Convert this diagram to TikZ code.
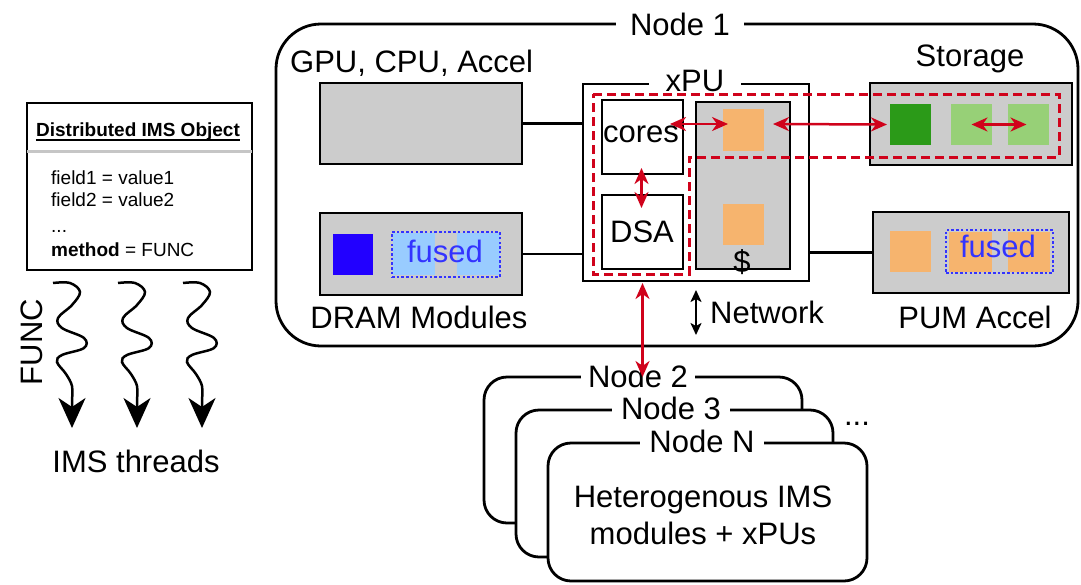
\documentclass[tikz,border=0pt]{standalone}
\usepackage{fontspec}
\setmainfont{Liberation Sans}
\usetikzlibrary{arrows.meta,fit}
\definecolor{redc}{RGB}{208,2,27}
\definecolor{boxgray}{RGB}{204,204,204}
\definecolor{orangec}{RGB}{246,180,110}
\definecolor{dgreen}{RGB}{43,154,24}
\definecolor{lgreen}{RGB}{151,208,119}
\definecolor{bluesq}{RGB}{34,0,255}
\definecolor{lblue}{RGB}{153,204,255}
\definecolor{bluetxt}{RGB}{51,51,255}
\newcommand{\bigf}{\fontsize{31}{37}\selectfont}
\newcommand{\smallf}{\fontsize{19}{22}\selectfont}
\begin{document}
\begin{tikzpicture}[x=1pt,y=-1pt,
  box/.style={draw=black, line width=2.8pt, inner sep=0pt, outer sep=0pt},
  graybox/.style={box, fill=boxgray},
  sq/.style={inner sep=0pt, outer sep=0pt, draw=none},
  fusedbox/.style={draw=bluetxt, line width=2.6pt, dash pattern=on 2.5pt off 2.2pt, inner sep=0pt, outer sep=0pt},
  txt/.style={font=\bigf, inner sep=0pt, anchor=base},
  stxt/.style={font=\smallf, inner sep=0pt, anchor=base west},
  gaplbl/.style={font=\bigf, fill=white, inner ysep=3pt, anchor=base},
  conn/.style={line width=2.2pt},
  redarr/.style={draw=redc, line width=2.5pt, {Stealth[length=16pt,width=14pt,inset=5pt]}-{Stealth[length=16pt,width=14pt,inset=5pt]}},
  blkarr/.style={draw=black, line width=2.2pt, {Stealth[length=12pt,width=11pt,inset=3pt]}-{Stealth[length=12pt,width=11pt,inset=3pt]}},
  reddash/.style={draw=redc, line width=3pt, dash pattern=on 9pt off 5pt},
  nodebox/.style={box, fill=white, rounded corners=23pt},
  wave/.style={line width=2.5pt, -{Stealth[length=30pt,width=27pt,inset=9pt]}},
]
\useasboundingbox (0,0) rectangle (1081,584);
\fill[white] (0,0) rectangle (1081,584);

% ---------- Left: distributed object ----------
\node[box, fit={(27,103) (252,270)}] (obj) {};
\draw[gray!45, line width=3pt] (obj.west |- 0,151) -- (obj.east |- 0,151);
\node[font=\smallf\bfseries, inner sep=0pt, anchor=base] (title) at (138,136) {Distributed IMS Object};
\draw[line width=2pt] ([yshift=-4pt]title.base west) -- ([yshift=-4pt]title.base east);
\node[stxt] (f1) at (51,184) {field1 = value1};
\node[stxt] (f2) at (51,206) {field2 = value2};
\node[stxt] (f3) at (51,232) {...};
\node[stxt] (f4) at (51,256) {\textbf{method} = FUNC};

\foreach \s in {0,65,130}{
  \begin{scope}[xshift=\s pt]
  \draw[wave] plot[smooth, tension=0.6] coordinates {(53,283) (70,283) (80,292) (72,305) (58,318) (62,328) (84,338) (84,348) (62,355) (57,362) (66,374) (72,386) (72,400)} -- (72,428);
  \end{scope}
}
\node[font=\bigf, rotate=90, inner sep=0pt] (func) at (32,342) {FUNC};
\node[txt] (threads) at (136,472) {IMS threads};

% ---------- Node 1 ----------
\node[box, rounded corners=45pt, fit={(276,24) (1078,346)}] (node1) {};
\node[gaplbl, inner xsep=14pt] (node1lbl) at (680,35) {Node 1};

\node[txt, anchor=base west] (gpulbl) at (290,72) {GPU, CPU, Accel};
\node[graybox, fit={(320,83) (522,164)}] (gpu) {};

\node[box, fill=white, fit={(583,84) (809,281)}] (xpu) {};
\node[gaplbl, inner xsep=17pt, inner ysep=1pt] (xpulbl) at (695,91) {xPU};
\node[box, fit={(602,100) (683,174)}] (cores) {};
\node[txt] (coreslbl) at (641,142) {cores};
\node[box, fit={(602,195) (683,269)}] (dsa) {};
\node[txt] (dsalbl) at (642,242) {DSA};
\node[graybox, fit={(696,102) (790,269)}] (cache) {};
\node[sq, fill=orangec, fit={(723,109) (764,151)}] (o1) {};
\node[sq, fill=orangec, fit={(723,204) (764,245)}] (o2) {};
\node[txt] (cachelbl) at (742,272) {\$};

\node[txt] (storlbl) at (970,66) {Storage};
\node[graybox, fit={(870,83) (1072,165)}] (storage) {};
\node[sq, fill=dgreen, fit={(890,104) (931,145)}] (dg) {};
\node[sq, fill=lgreen, fit={(951,104) (992,145)}] (lg1) {};
\node[sq, fill=lgreen, fit={(1008,104) (1049,145)}] (lg2) {};

\node[graybox, fit={(320,213) (522,295)}] (dram) {};
\node[sq, fill=bluesq, fit={(333,234) (373,275)}] (bsq) {};
\node[sq, fill=lblue, fit={(393,233) (435,275)}] (dfa) {};
\node[sq, fill=lblue, fit={(457,233) (500,275)}] (dfb) {};
\node[fusedbox, fit={(392,232) (500,277)}] (dfused) {};
\node[txt, text=bluetxt] (dfusedlbl) at (445,262) {fused};
\node[txt] (dramlbl) at (419,328) {DRAM Modules};

\node[graybox, fit={(873,212) (1069,293)}] (pum) {};
\node[sq, fill=orangec, fit={(890,231) (931,272)}] (po) {};
\node[sq, fill=orangec, fit={(949,232) (992,272)}] (pfa) {};
\node[sq, fill=orangec, fit={(1008,232) (1050,272)}] (pfb) {};
\node[fusedbox, fit={(946,230) (1053,273)}] (pfused) {};
\node[txt, text=bluetxt] (pfusedlbl) at (998,257) {fused};
\node[txt] (pumlbl) at (975,328) {PUM Accel};

% connectors
\draw[conn] (gpu.east) -- (gpu.east -| xpu.west);
\draw[conn] (dram.east) -- (dram.east -| xpu.west);
\draw[conn] (xpu.east |- pum.west) -- (pum.west);
\draw[conn] (xpu.east |- storage.west) -- (storage.west);

% red dashed region
\draw[reddash] (593,94) -- (1059,94) -- (1059,157) -- (689,157) -- (689,274) -- (593,274) -- cycle;

% red arrows
\draw[redarr] ([shift={(-13,-13)}]cores.east) -- ([shift={(5,-6)}]o1.west);
\draw[redarr] ([shift={(9,-6)}]o1.east) -- ([shift={(-3,0)}]dg.west);
\draw[redarr] (lg1.center) -- ([xshift=-2pt]lg2.center);
\draw[redarr] ([shift={(-1,-6)}]cores.south) -- ([shift={(-1,13)}]dsa.north);

% network
\coordinate (netT) at (696,290);
\coordinate (netB) at (696,335);
\draw[blkarr] (netT) -- (netB);
\node[txt, anchor=base west] (netlbl) at (710,323) {Network};

% ---------- other nodes ----------
\node[nodebox, fit={(484,377) (802,523)}] (node2) {};
\node[gaplbl, inner xsep=7.5pt] (node2lbl) at (638,387) {Node 2};
\node[nodebox, fit={(516,410) (833,557)}] (node3) {};
\node[gaplbl, inner xsep=9pt] (node3lbl) at (671,419) {Node 3};
\node[nodebox, fit={(548,443) (867,581)}] (nodeN) {};
\node[gaplbl, inner xsep=9pt] (nodeNlbl) at (702,452) {Node N};
\node[txt] (het1) at (703,507) {Heterogenous IMS};
\node[txt] (het2) at (703,544) {modules + xPUs};
\node[txt] (dots) at (857,425) {...};

\draw[redarr] ([yshift=-2pt]dsa.south |- xpu.south) -- (dsa.south |- node2.north);
\end{tikzpicture}
\end{document}
